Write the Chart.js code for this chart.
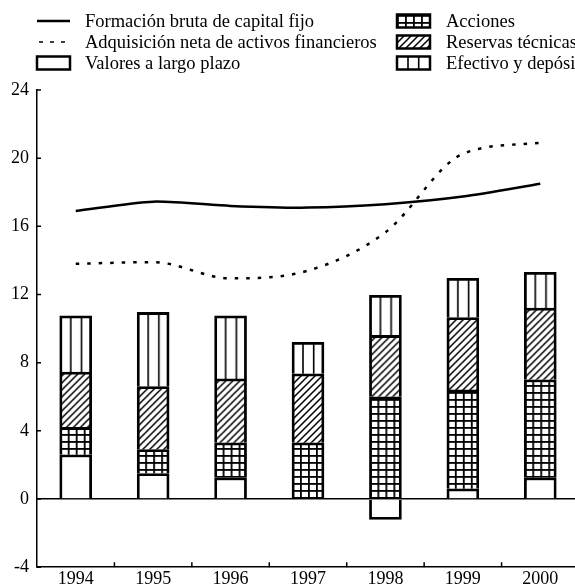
<!DOCTYPE html>
<html>
<head>
<meta charset="utf-8">
<script src="https://cdn.jsdelivr.net/npm/chart.js@4.4.1/dist/chart.umd.min.js"></script>
<style>
  html, body { margin: 0; padding: 0; background: #fff; overflow: hidden; }
</style>
</head>
<body>
<canvas id="grafico" width="600" height="586"></canvas>
<script>
// Años
const anios = ["1994", "1995", "1996", "1997", "1998", "1999", "2000"];

// Series (porcentaje del PIB)
const formacionBruta = [16.9, 17.45, 17.2, 17.1, 17.3, 17.75, 18.5];
const adquisicionNeta = [13.8, 13.9, 12.95, 13.4, 15.65, 20.25, 20.9];
const valoresLargoPlazo = [2.6, 1.5, 1.25, 0, -1.2, 0.6, 1.25];
const acciones = [1.6, 1.4, 2.05, 3.3, 6.0, 5.8, 5.75];
const reservasTecnicas = [3.25, 3.7, 3.75, 4.05, 3.6, 4.25, 4.2];
const efectivoDepositos = [3.3, 4.35, 3.7, 1.85, 2.35, 2.3, 2.1];

// Eje vertical
const ejeMin = -4;
const ejeMax = 24;
const ejePaso = 4;

const fuente = "Liberation Serif";
const anchoBarra = 32;

// Teselas para las tramas de las barras
function crearTrama(ancho, alto, dibujar) {
  const c = document.createElement("canvas");
  c.width = ancho;
  c.height = alto;
  const g = c.getContext("2d");
  g.fillStyle = "#fff";
  g.fillRect(0, 0, ancho, alto);
  g.fillStyle = "#000";
  g.strokeStyle = "#000";
  dibujar(g);
  return c;
}

const tramaLisa = crearTrama(8, 8, () => {});
const tramaCuadricula = crearTrama(8, 7, g => {
  g.fillRect(0, 0, 1.8, 7);
  g.fillRect(0, 0, 8, 1.8);
});
const tramaDiagonal = crearTrama(7, 7, g => {
  g.lineWidth = 1.5;
  g.beginPath();
  g.moveTo(-1, 8); g.lineTo(8, -1);
  g.moveTo(-1, 1); g.lineTo(1, -1);
  g.moveTo(6, 8); g.lineTo(8, 6);
  g.stroke();
});
const tramaVertical = crearTrama(32, 8, g => {
  g.fillRect(10.2, 0, 1.6, 8);
  g.fillRect(20.9, 0, 1.6, 8);
});

// Relleno anclado al borde izquierdo de cada barra
function rellenoBarra(tesela) {
  return ctx => {
    const xs = ctx.chart.scales.x;
    if (!xs || ctx.dataIndex === undefined) return "#fff";
    const p = ctx.chart.ctx.createPattern(tesela, "repeat");
    const izq = xs.getPixelForValue(ctx.dataIndex) - anchoBarra / 2;
    p.setTransform(new DOMMatrix().translate(izq, 0));
    return p;
  };
}

function barra(etiqueta, datos, tesela) {
  return {
    type: "bar",
    label: etiqueta,
    data: datos,
    stack: "barras",
    tesela: tesela,
    backgroundColor: rellenoBarra(tesela),
    borderColor: "#000",
    borderWidth: 2.8,
    barThickness: anchoBarra,
  };
}

const datasets = [
  {
    type: "line",
    label: "Formación bruta de capital fijo",
    data: formacionBruta,
    stack: "formacion",
    borderColor: "#000",
    borderWidth: 2.5,
    pointRadius: 0,
    tension: 0.25,
  },
  {
    type: "line",
    label: "Adquisición neta de activos financieros",
    data: adquisicionNeta,
    stack: "adquisicion",
    borderColor: "#000",
    borderWidth: 2.5,
    borderDash: [3.5, 8],
    pointRadius: 0,
    cubicInterpolationMode: "monotone",
  },
  barra("Valores a largo plazo", valoresLargoPlazo, tramaLisa),
  barra("Acciones", acciones, tramaCuadricula),
  barra("Reservas técnicas", reservasTecnicas, tramaDiagonal),
  barra("Efectivo y depósitos", efectivoDepositos, tramaVertical),
];

// Leyenda en dos columnas
const columnasLeyenda = [{ x: 37, texto: 85 }, { x: 397, texto: 446 }];
const filasLeyenda = [21, 42, 63];

const leyenda = {
  id: "leyenda",
  afterDraw(chart) {
    const c = chart.ctx;
    c.save();
    c.font = "18.5px '" + fuente + "'";
    c.textBaseline = "middle";
    chart.data.datasets.forEach((ds, i) => {
      const col = columnasLeyenda[Math.floor(i / 3)];
      const y = filasLeyenda[i % 3];
      c.strokeStyle = "#000";
      if (ds.type === "line") {
        c.beginPath();
        if (ds.borderDash) {
          c.lineWidth = 1.3;
          c.setLineDash([4, 7]);
          c.moveTo(col.x + 2, y);
        } else {
          c.lineWidth = 2.5;
          c.moveTo(col.x, y);
        }
        c.lineTo(col.x + 33, y);
        c.stroke();
        c.setLineDash([]);
      } else {
        const p = c.createPattern(ds.tesela, "repeat");
        p.setTransform(new DOMMatrix().translate(col.x, y - 6));
        c.fillStyle = p;
        c.fillRect(col.x, y - 6.5, 33, 13);
        c.lineWidth = 2.5;
        c.strokeRect(col.x, y - 6.5, 33, 13);
      }
      c.fillStyle = "#000";
      c.fillText(ds.label, col.texto, y + 1);
    });
    c.restore();
  },
};

// Marcas de los ejes hacia el interior
const marcas = {
  id: "marcas",
  afterDraw(chart) {
    const { ctx: c, chartArea: a, scales: { x, y } } = chart;
    const paso = x.getPixelForValue(1) - x.getPixelForValue(0);
    c.save();
    c.strokeStyle = "#000";
    c.lineWidth = 1.5;
    c.beginPath();
    y.ticks.forEach(t => {
      const py = y.getPixelForValue(t.value);
      c.moveTo(a.left, py);
      c.lineTo(a.left + 4, py);
    });
    for (let i = 0; i < anios.length - 1; i++) {
      const px = x.getPixelForValue(i) + paso / 2;
      c.moveTo(px, a.bottom);
      c.lineTo(px, a.bottom - 5);
    }
    c.stroke();
    c.restore();
  },
};

const config = {
  data: { labels: anios, datasets: datasets },
  options: {
    responsive: false,
    animation: false,
    layout: { padding: { top: 90, right: 21, left: 0, bottom: 0 } },
    plugins: { legend: { display: false }, tooltip: { enabled: false } },
    scales: {
      x: {
        stacked: true,
        grid: { display: false, drawTicks: false },
        border: { display: true, color: "#000", width: 1.5 },
        ticks: { color: "#000", font: { family: fuente, size: 18 }, padding: 1, maxRotation: 0 },
        afterFit: s => { s.height = 18; },
      },
      y: {
        stacked: true,
        min: ejeMin,
        max: ejeMax,
        grid: {
          drawTicks: false,
          lineWidth: 1.5,
          color: ctx => (ctx.tick && ctx.tick.value === 0 ? "#000" : "rgba(0,0,0,0)"),
        },
        border: { display: true, color: "#000", width: 1.5 },
        ticks: { stepSize: ejePaso, color: "#000", font: { family: fuente, size: 18 }, padding: 8 },
        afterFit: s => { s.width = 37; },
      },
    },
  },
  plugins: [leyenda, marcas],
};

new Chart(document.getElementById("grafico").getContext("2d"), config);
</script>
</body>
</html>
